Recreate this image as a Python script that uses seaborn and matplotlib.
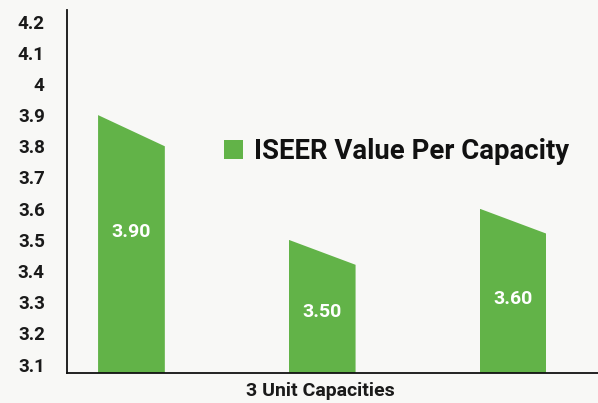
import seaborn as sns
import matplotlib.pyplot as plt
import pandas as pd
from matplotlib.patches import Polygon

# data
capacities = ['Capacity 1', 'Capacity 2', 'Capacity 3']
iseer = [3.90, 3.50, 3.60]
value_labels = ['3.90', '3.50', '3.60']
y_ticks = [3.1, 3.2, 3.3, 3.4, 3.5, 3.6, 3.7, 3.8, 3.9, 4.0, 4.1, 4.2]
y_tick_labels = ['3.1', '3.2', '3.3', '3.4', '3.5', '3.6', '3.7', '3.8', '3.9', '4', '4.1', '4.2']

df = pd.DataFrame({'capacity': capacities, 'iseer': iseer})

GREEN = '#62b348'
BG = '#f8f8f6'

sns.set_style('white')
plt.rcParams['font.family'] = ['Roboto', 'DejaVu Sans']

fig = plt.figure(figsize=(5.98, 4.03), dpi=100, facecolor=BG)
ax = fig.add_axes([0.112, 0.0744, 0.888, 0.9008])
ax.set_facecolor(BG)

sns.barplot(data=df, x='capacity', y='iseer', color=GREEN, width=0.35,
            saturation=1, label='ISEER Value Per Capacity', ax=ax)

ax.set_ylim(3.073, 4.237)
ax.set_xlim(-0.338, 2.446)

# slanted tops: clip each bar with a polygon whose right corner is lower
slant = [0.10, 0.08, 0.08]
for patch, drop in zip(ax.patches, slant):
    x0 = patch.get_x()
    w = patch.get_width()
    top = patch.get_y() + patch.get_height()
    poly = Polygon([(x0, 3.0), (x0, top), (x0 + w, top - drop), (x0 + w, 3.0)],
                   closed=True, transform=ax.transData)
    patch.set_clip_path(poly)
    patch.set_linewidth(0)

# value labels inside the bars
label_y = [3.526, 3.270, 3.309]
for i, (txt, y) in enumerate(zip(value_labels, label_y)):
    ax.text(i, y, txt, ha='center', va='center', color='white',
            fontsize=14, fontweight='bold')

ax.set_yticks(y_ticks)
ax.set_yticklabels(y_tick_labels, fontsize=13.5, fontweight='bold', color='#1a1a1a')
ax.tick_params(axis='y', length=0, pad=16)
ax.set_xticks([])
ax.set_ylabel('')
ax.set_xlabel('3 Unit Capacities', fontsize=14, fontweight='bold', color='#1a1a1a')
ax.xaxis.set_label_coords(0.478, -0.026)

for side in ['top', 'right']:
    ax.spines[side].set_visible(False)
for side in ['left', 'bottom']:
    ax.spines[side].set_color('#111111')
    ax.spines[side].set_linewidth(1.3)

leg = ax.legend(loc='center left', bbox_to_anchor=(0.2957, 0.609), frameon=False,
                prop={'size': 19.8, 'weight': 'bold', 'family': 'Roboto'},
                handlelength=0.68, handleheight=0.68, handletextpad=0.42,
                borderpad=0, borderaxespad=0)
for t in leg.get_texts():
    t.set_color('#111111')

plt.savefig('out.png', dpi=100, facecolor=BG)
